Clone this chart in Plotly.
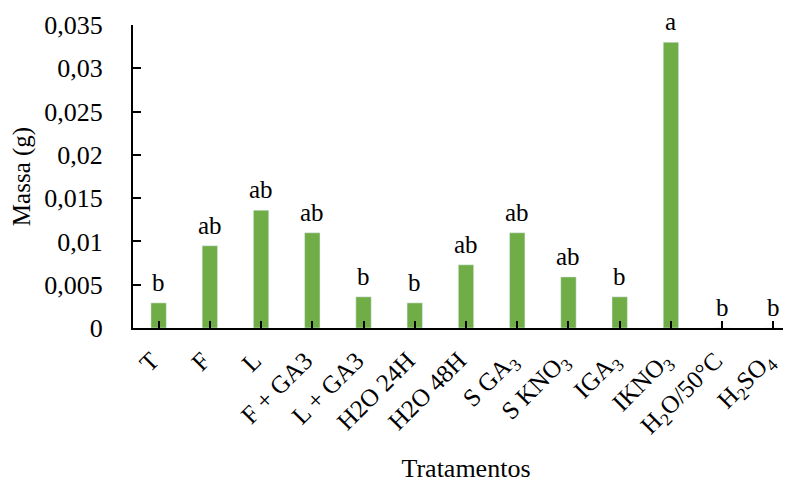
import plotly.graph_objects as go

categories = ["T", "F", "L", "F + GA3", "L + GA3", "H2O 24H", "H2O 48H",
              "S GA<sub>3</sub>", "S KNO<sub>3</sub>", "IGA<sub>3</sub>", "IKNO<sub>3</sub>",
              "H<sub>2</sub>O/50°C", "H<sub>2</sub>SO<sub>4</sub>"]
massa = [0.0029, 0.0095, 0.0136, 0.0110, 0.0036, 0.0029, 0.0073,
         0.0110, 0.0059, 0.0036, 0.0330, 0.0, 0.0]
letras = ["b", "ab", "ab", "ab", "b", "b", "ab", "ab", "ab", "b", "a", "b", "b"]
y_ticks = [0, 0.005, 0.01, 0.015, 0.02, 0.025, 0.03, 0.035]
y_tick_labels = ["0", "0,005", "0,01", "0,015", "0,02", "0,025", "0,03", "0,035"]

FONT = "Liberation Serif, Times New Roman, serif"
xs = list(range(len(categories)))

fig = go.Figure()
fig.add_trace(go.Bar(x=xs, y=massa, marker_color="#70AD47", width=0.3,
                     hoverinfo="skip"))

for xi, v, t in zip(xs, massa, letras):
    fig.add_annotation(x=xi, y=v, text=t, showarrow=False, yanchor="bottom",
                       yshift=6, borderpad=0,
                       font=dict(family=FONT, size=25, color="black"))

fig.update_layout(
    width=791, height=483,
    margin=dict(l=125, r=0, t=17, b=163, autoexpand=False),
    paper_bgcolor="white", plot_bgcolor="white",
    showlegend=False,
    font=dict(family=FONT, size=25, color="black"),
    xaxis=dict(
        range=[-0.5, 12.5], automargin=False,
        tickmode="array", tickvals=xs, ticktext=categories,
        tickangle=-45, showgrid=False, zeroline=False,
        showline=True, linecolor="black", linewidth=2,
        ticks="inside", tickson="boundaries", ticklen=7, tickwidth=2, tickcolor="black",
        ticklabelshift=-7, ticklabelstandoff=6,
        tickfont=dict(family=FONT, size=25, color="black"),
        title=dict(text="Tratamentos", font=dict(family=FONT, size=26, color="black"),
                   standoff=18),
    ),
    yaxis=dict(
        range=[0, 0.035], automargin=False,
        tickmode="array", tickvals=y_ticks, ticktext=y_tick_labels,
        showgrid=False, zeroline=False,
        showline=True, linecolor="black", linewidth=2,
        ticks="inside", ticklen=8, tickwidth=2, tickcolor="black",
        ticklabelstandoff=23,
        tickfont=dict(family=FONT, size=26, color="black"),
        title=dict(text="Massa (g)", font=dict(family=FONT, size=25, color="black"),
                   standoff=7),
    ),
)

fig.write_html("out.html")
